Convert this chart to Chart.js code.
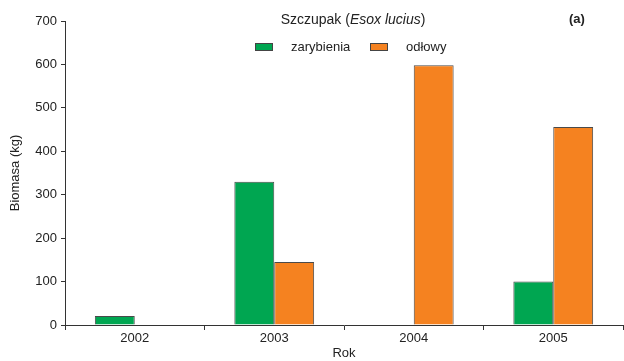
<!DOCTYPE html>
<html>
<head>
<meta charset="utf-8">
<script src="https://cdn.jsdelivr.net/npm/chart.js@4.4.0/dist/chart.umd.min.js"></script>
<style>
  html, body { margin: 0; padding: 0; background: #fff; }
  #wrap { width: 624px; height: 361px; }
</style>
</head>
<body>
<div id="wrap"><canvas id="chart" width="624" height="361"></canvas></div>
<script>
// dane
const years = ['2002', '2003', '2004', '2005'];
const zarybienia = [21, 330, null, 100];
const odlowy = [null, 145, 598, 456];
const yTicks = [0, 100, 200, 300, 400, 500, 600, 700];

const FONT = '"Liberation Sans Narrow", "Liberation Sans", Arial, sans-serif';
const TXT = '#222';

// tytuł, podpis (a) i legenda rysowane ręcznie
const overlay = {
    id: 'overlay',
    afterDraw(chart) {
        const c = chart.ctx;
        c.save();
        c.fillStyle = TXT;
        c.textBaseline = 'middle';
        // tytuł z kursywą
        const parts = [['Szczupak (', ''], ['Esox lucius', 'italic '], [')', '']];
        let total = 0;
        parts.forEach(p => { c.font = p[1] + '14px ' + FONT; total += c.measureText(p[0]).width; });
        let x = 353 - total / 2;
        parts.forEach(p => {
            c.font = p[1] + '14px ' + FONT;
            c.textAlign = 'left';
            c.fillText(p[0], x, 20);
            x += c.measureText(p[0]).width;
        });
        c.font = 'bold 13px ' + FONT;
        c.fillText('(a)', 569, 19);
        // legenda
        const items = [
            { label: 'zarybienia', color: chart.data.datasets[0].backgroundColor, x: 255 },
            { label: 'odłowy', color: chart.data.datasets[1].backgroundColor, x: 370 }
        ];
        c.font = '13px ' + FONT;
        items.forEach(it => {
            c.fillStyle = it.color;
            c.strokeStyle = '#444';
            c.lineWidth = 1;
            c.fillRect(it.x + 0.5, 43.5, 17, 7);
            c.strokeRect(it.x + 0.5, 43.5, 17, 7);
            c.fillStyle = TXT;
            c.fillText(it.label, it.x + 36, 47);
        });
        c.restore();
    }
};

const ctx = document.getElementById('chart').getContext('2d');
new Chart(ctx, {
    type: 'bar',
    data: {
        labels: years,
        datasets: [
            {
                label: 'zarybienia',
                data: zarybienia,
                backgroundColor: '#00a651',
                borderColor: '#4a4a4a',
                borderWidth: 1
            },
            {
                label: 'odłowy',
                data: odlowy,
                backgroundColor: '#f58220',
                borderColor: '#4a4a4a',
                borderWidth: 1
            }
        ]
    },
    options: {
        responsive: false,
        animation: false,
        layout: { padding: { left: 0, right: 1, top: 21, bottom: 0 } },
        categoryPercentage: 0.572,
        barPercentage: 1,
        plugins: {
            legend: { display: false },
            tooltip: { enabled: false }
        },
        scales: {
            x: {
                grid: { display: true, drawOnChartArea: false, tickLength: 5, color: '#333', offset: true },
                border: { color: '#333', width: 1 },
                ticks: { color: TXT, font: { family: FONT, size: 13 }, padding: 1 },
                title: { display: true, text: 'Rok', color: TXT, font: { family: FONT, size: 13 }, padding: { top: 0, bottom: 0 } },
                afterFit(s) { s.height = 36; }
            },
            y: {
                min: 0,
                max: 700,
                afterBuildTicks(s) { s.ticks = yTicks.map(v => ({ value: v })); },
                grid: { display: true, drawOnChartArea: false, tickLength: 4, color: '#333' },
                border: { color: '#333', width: 1 },
                ticks: { color: TXT, font: { family: FONT, size: 13 }, padding: 4 },
                title: { display: true, text: 'Biomasa (kg)', color: TXT, font: { family: FONT, size: 13 }, padding: { top: 8, bottom: 4 } },
                afterFit(s) { s.width = 65; }
            }
        }
    },
    plugins: [overlay]
});
</script>
</body>
</html>
